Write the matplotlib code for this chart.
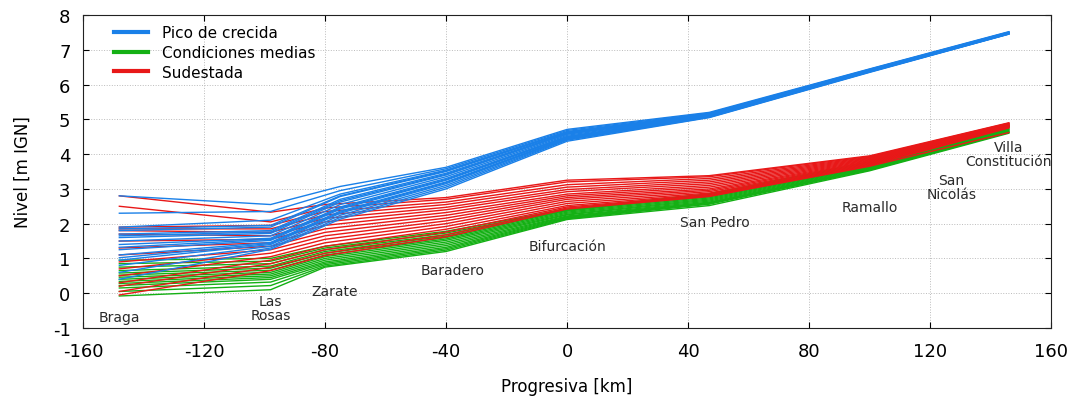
import matplotlib
matplotlib.use("Agg")
import matplotlib.pyplot as plt
import numpy as np

plt.rcParams['axes.unicode_minus'] = False

# progresiva (km) de los quiebres de cada perfil
x_pico = [-148, -98, -75, -40, 0, 47, 100, 146]
x_resto = [-148, -98, -80, -40, 0, 47, 100, 146]

# Pico de crecida (cada fila es un perfil)
pico = [
    [2.80, 2.55, 3.07, 3.62, 4.71, 5.20, 6.45, 7.52],
    [2.30, 2.35, 2.95, 3.58, 4.68, 5.18, 6.44, 7.51],
    [1.90, 2.10, 2.85, 3.54, 4.65, 5.16, 6.43, 7.50],
    [1.85, 1.95, 2.80, 3.52, 4.63, 5.15, 6.42, 7.50],
    [1.80, 1.90, 2.78, 3.50, 4.62, 5.15, 6.42, 7.50],
    [1.70, 1.80, 2.70, 3.45, 4.60, 5.14, 6.41, 7.49],
    [1.65, 1.76, 2.66, 3.42, 4.58, 5.13, 6.41, 7.49],
    [1.60, 1.72, 2.62, 3.40, 4.57, 5.13, 6.40, 7.49],
    [1.50, 1.65, 2.55, 3.35, 4.54, 5.12, 6.40, 7.48],
    [1.40, 1.58, 2.48, 3.30, 4.51, 5.11, 6.39, 7.48],
    [1.32, 1.55, 2.45, 3.27, 4.50, 5.10, 6.39, 7.47],
    [1.25, 1.52, 2.42, 3.25, 4.48, 5.10, 6.38, 7.47],
    [1.10, 1.46, 2.36, 3.20, 4.46, 5.09, 6.38, 7.47],
    [1.02, 1.43, 2.33, 3.18, 4.45, 5.08, 6.37, 7.46],
    [0.95, 1.40, 2.30, 3.15, 4.44, 5.08, 6.37, 7.46],
    [0.80, 1.35, 2.24, 3.10, 4.42, 5.07, 6.37, 7.46],
    [0.60, 1.30, 2.18, 3.05, 4.40, 5.06, 6.36, 7.45],
    [0.40, 1.26, 2.13, 3.00, 4.37, 5.05, 6.35, 7.45],
]

# Condiciones medias
medias = [
    [0.95, 1.00, 1.35, 1.78, 2.42, 2.86, 3.78, 4.83],
    [0.85, 0.92, 1.30, 1.73, 2.40, 2.84, 3.76, 4.81],
    [0.75, 0.85, 1.25, 1.68, 2.38, 2.82, 3.74, 4.79],
    [0.65, 0.78, 1.20, 1.64, 2.36, 2.80, 3.72, 4.77],
    [0.58, 0.72, 1.15, 1.60, 2.33, 2.77, 3.70, 4.75],
    [0.52, 0.66, 1.10, 1.56, 2.30, 2.74, 3.68, 4.73],
    [0.46, 0.60, 1.05, 1.52, 2.27, 2.71, 3.66, 4.71],
    [0.40, 0.55, 1.00, 1.47, 2.25, 2.68, 3.64, 4.70],
    [0.34, 0.50, 0.95, 1.42, 2.22, 2.65, 3.62, 4.68],
    [0.28, 0.45, 0.90, 1.37, 2.20, 2.62, 3.60, 4.66],
    [0.22, 0.40, 0.86, 1.32, 2.18, 2.60, 3.58, 4.65],
    [0.15, 0.32, 0.82, 1.28, 2.16, 2.58, 3.56, 4.63],
    [0.05, 0.22, 0.78, 1.24, 2.14, 2.56, 3.54, 4.62],
    [-0.08, 0.10, 0.75, 1.20, 2.12, 2.52, 3.52, 4.60],
]

# Sudestada
sudestada = [
    [2.80, 2.33, 2.55, 2.75, 3.25, 3.38, 3.95, 4.90],
    [2.50, 2.05, 2.45, 2.70, 3.20, 3.35, 3.93, 4.89],
    [1.90, 1.95, 2.35, 2.62, 3.12, 3.30, 3.91, 4.88],
    [1.85, 1.85, 2.25, 2.55, 3.05, 3.25, 3.89, 4.87],
    [1.80, 1.75, 2.15, 2.47, 2.98, 3.20, 3.87, 4.86],
    [1.70, 1.65, 2.05, 2.40, 2.92, 3.15, 3.85, 4.85],
    [1.50, 1.55, 1.95, 2.32, 2.85, 3.10, 3.83, 4.84],
    [1.30, 1.45, 1.85, 2.24, 2.80, 3.05, 3.81, 4.83],
    [1.10, 1.35, 1.75, 2.16, 2.75, 3.00, 3.79, 4.82],
    [0.90, 1.25, 1.65, 2.08, 2.70, 2.96, 3.77, 4.81],
    [0.70, 1.15, 1.55, 2.00, 2.64, 2.92, 3.75, 4.80],
    [0.50, 1.05, 1.45, 1.92, 2.58, 2.88, 3.73, 4.79],
    [0.30, 0.95, 1.35, 1.84, 2.52, 2.85, 3.71, 4.78],
    [0.20, 0.85, 1.25, 1.76, 2.48, 2.82, 3.69, 4.77],
    [0.05, 0.75, 1.15, 1.68, 2.45, 2.80, 3.67, 4.75],
    [-0.05, 0.65, 1.08, 1.62, 2.42, 2.78, 3.65, 4.62],
]

# nombres de las localidades
lugares = ["Braga", "Las\nRosas", "Zarate", "Baradero", "Bifurcación",
           "San Pedro", "Ramallo", "San\nNicolás", "Villa\nConstitución"]
lugar_x = [-148, -98, -77, -38, 0, 49, 100, 127, 146]
lugar_y = [-0.67, -0.42, 0.06, 0.67, 1.37, 2.06, 2.47, 3.05, 4.0]

c_pico = '#1a80e8'
c_medias = '#14b014'
c_sud = '#e81818'

fig = plt.figure(figsize=(10.77, 4.06), dpi=100)
ax = fig.add_axes([0.0771, 0.1897, 0.8989, 0.7709])

for perfil in medias:
    ax.plot(x_resto, perfil, color=c_medias, lw=1.0, zorder=3)
for perfil in sudestada:
    ax.plot(x_resto, perfil, color=c_sud, lw=1.0, zorder=4)
for perfil in pico:
    ax.plot(x_pico, perfil, color=c_pico, lw=1.0, zorder=5)

for nombre, lx, ly in zip(lugares, lugar_x, lugar_y):
    ax.text(lx, ly, nombre, ha='center', va='center', fontsize=10,
            color='#2a2a2a', linespacing=0.95, zorder=6)

# leyenda con trazos gruesos
h1, = ax.plot([], [], color=c_pico, lw=3)
h2, = ax.plot([], [], color=c_medias, lw=3)
h3, = ax.plot([], [], color=c_sud, lw=3)
ax.legend([h1, h2, h3], ["Pico de crecida", "Condiciones medias", "Sudestada"],
          loc='upper left', bbox_to_anchor=(0.018, 1.012), frameon=False,
          fontsize=11, handlelength=2.2, handletextpad=0.9, labelspacing=0.32)

ax.set_xlim(-160, 160)
ax.set_ylim(-1, 8)
ax.set_xticks(np.arange(-160, 161, 40))
ax.set_yticks(np.arange(-1, 9, 1))
ax.tick_params(direction='in', top=True, right=True, labelsize=13, length=4)
ax.tick_params(axis='x', pad=10)
ax.tick_params(axis='y', pad=9)
ax.grid(True, linestyle=':', color='#bbbbbb', linewidth=0.7)
ax.set_axisbelow(True)
for s in ax.spines.values():
    s.set_color('#222222')

ax.set_xlabel("Progresiva [km]", fontsize=12, labelpad=12)
ax.set_ylabel("Nivel [m IGN]", fontsize=12, labelpad=15)

fig.savefig("out.png", dpi=100)
